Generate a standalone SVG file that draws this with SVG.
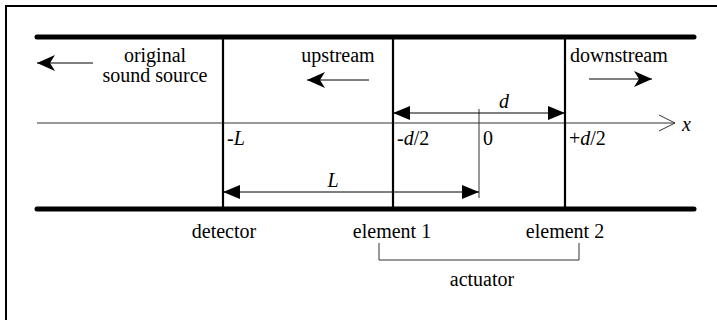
<svg xmlns="http://www.w3.org/2000/svg" width="717" height="320" viewBox="0 0 717 320" font-family="'Liberation Serif','Times New Roman',serif">
<style>
text{font-family:"Liberation Serif","Times New Roman",serif;font-size:20px;fill:#000}
.i{font-style:italic}
.m{text-anchor:middle}
.thick{stroke:#000;stroke-width:5;stroke-linecap:round;fill:none}
.wall{stroke:#000;stroke-width:2.2;fill:none}
.thin{stroke:#333;stroke-width:1;fill:none}
.dim{stroke:#000;stroke-width:1;fill:none}
</style>
<defs>
<marker id="tri" markerUnits="userSpaceOnUse" markerWidth="17" markerHeight="14" refX="17" refY="7" orient="auto-start-reverse"><path d="M0,0 L17,7 L0,14 Z" fill="#000"/></marker>
<marker id="barb" markerUnits="userSpaceOnUse" markerWidth="18" markerHeight="16" refX="18" refY="8" orient="auto"><path d="M0,0 L18,8 L0,16 L5,8 Z" fill="#000"/></marker>
</defs>
<rect x="6" y="6" width="720" height="330" fill="none" stroke="#000" stroke-width="2"/>
<g id="duct">
<line class="thick" x1="37" y1="37" x2="694" y2="37"/>
<line class="thick" x1="37" y1="209" x2="694" y2="209"/>
</g>
<g id="axis">
<line class="thin" x1="37" y1="123" x2="675" y2="123"/>
<polyline class="thin" points="659,115 675,123 659,131"/>
<text class="i" x="682" y="131">x</text>
</g>
<g id="detector">
<line class="wall" x1="223" y1="37" x2="223" y2="209"/>
<text class="i" x="227" y="145">-L</text>
<text class="m" x="224" y="238">detector</text>
</g>
<g id="element1">
<line class="wall" x1="393" y1="37" x2="393" y2="209"/>
<text x="397" y="145">-<tspan class="i">d</tspan>/2</text>
<text class="m" x="392" y="238">element 1</text>
</g>
<g id="element2">
<line class="wall" x1="565" y1="37" x2="565" y2="209"/>
<text x="569" y="145">+<tspan class="i">d</tspan>/2</text>
<text class="m" x="565" y="238">element 2</text>
</g>
<g id="origin">
<line class="thin" x1="479" y1="109" x2="479" y2="198"/>
<text x="483" y="145">0</text>
</g>
<g id="actuator">
<polyline class="thin" points="379,243 379,260 579,260 579,243"/>
<text class="m" x="482" y="286">actuator</text>
</g>
<g id="labels">
<text class="m" x="155" y="62">original</text>
<text class="m" x="155" y="82">sound source</text>
<text class="m" x="338" y="62">upstream</text>
<text x="570" y="62">downstream</text>
</g>
<g id="connectors">
<line class="dim" x1="93" y1="63" x2="37" y2="63" marker-end="url(#barb)"/>
<line class="dim" x1="369" y1="80" x2="307" y2="80" marker-end="url(#barb)"/>
<line class="dim" x1="589" y1="79" x2="652" y2="79" marker-end="url(#barb)"/>
<line class="dim" x1="393" y1="113" x2="565" y2="113" marker-start="url(#tri)" marker-end="url(#tri)"/>
<text class="i m" x="504" y="108">d</text>
<line class="dim" x1="223" y1="192" x2="479" y2="192" marker-start="url(#tri)" marker-end="url(#tri)"/>
<text class="i m" x="333" y="187">L</text>
</g>
</svg>
